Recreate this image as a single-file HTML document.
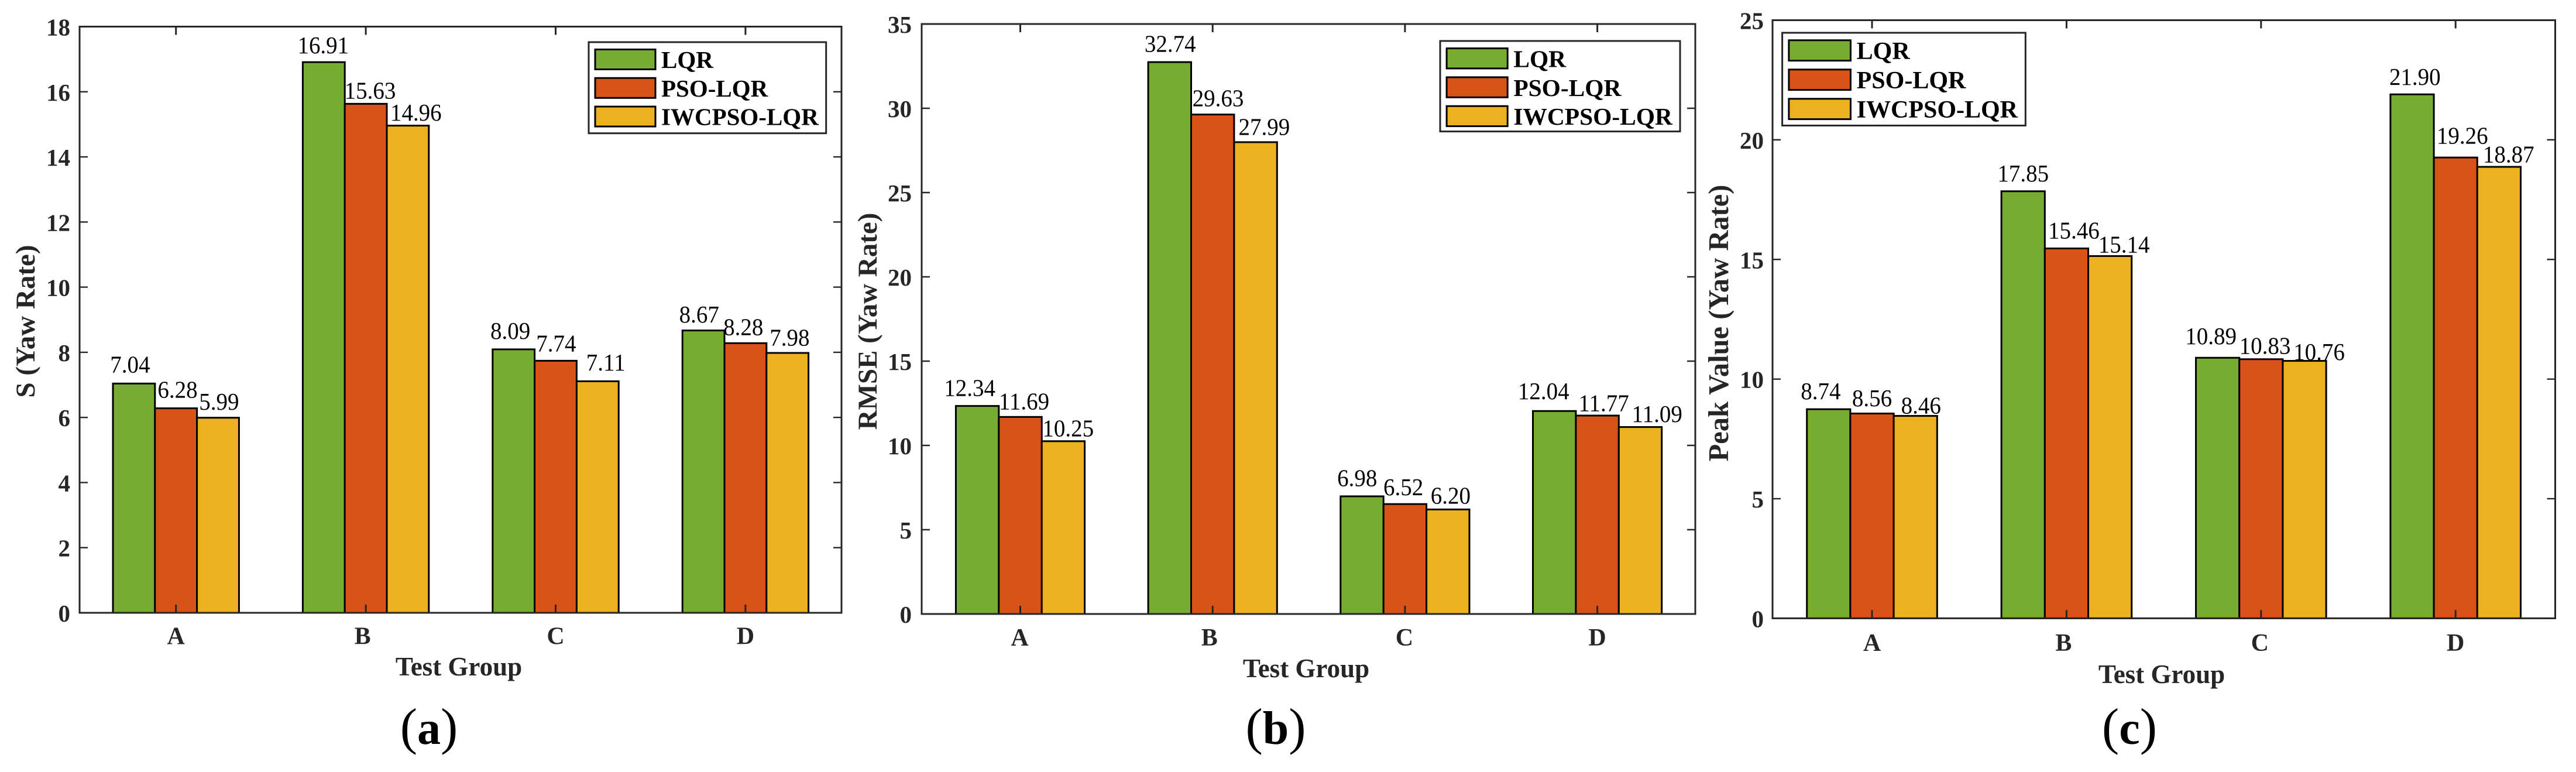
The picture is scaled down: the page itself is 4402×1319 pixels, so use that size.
<!DOCTYPE html>
<html lang="en">
<head>
<meta charset="utf-8">
<title>Yaw rate comparison</title>
<style>
html,body{margin:0;padding:0;background:#fff;}
svg{display:block;}
text{font-family:"Liberation Serif","Times New Roman",serif;}
</style>
</head>
<body>
<svg id="figure" xmlns="http://www.w3.org/2000/svg" width="4402" height="1319" viewBox="0 0 4402 1319">
<rect x="0" y="0" width="4402" height="1319" fill="#fff"/>
<text transform="translate(59 549) rotate(-90)" text-anchor="middle" font-weight="bold" font-size="47" fill="#262626">S (Yaw Rate)</text>
<text transform="translate(1498 549) rotate(-90)" text-anchor="middle" font-weight="bold" font-size="47" fill="#262626">RMSE (Yaw Rate)</text>
<text transform="translate(2953 552) rotate(-90)" text-anchor="middle" font-weight="bold" font-size="48.5" fill="#262626">Peak Value (Yaw Rate)</text>
<text x="784" y="1154" text-anchor="middle" font-weight="bold" font-size="45" fill="#262626">Test Group</text>
<text x="2232" y="1157" text-anchor="middle" font-weight="bold" font-size="45" fill="#262626">Test Group</text>
<text x="3694" y="1167" text-anchor="middle" font-weight="bold" font-size="45" fill="#262626">Test Group</text>
<text x="733" y="1271" text-anchor="middle" font-size="88" fill="#000">(<tspan font-weight="bold" font-size="80">a</tspan>)</text>
<text x="2180" y="1271" text-anchor="middle" font-size="88" fill="#000">(<tspan font-weight="bold" font-size="80">b</tspan>)</text>
<text x="3639" y="1271" text-anchor="middle" font-size="88" fill="#000">(<tspan font-weight="bold" font-size="80">c</tspan>)</text>
</svg>
<script>
// ---- chart data ----
const categories = ['A', 'B', 'C', 'D'];
const seriesNames = ['LQR', 'PSO-LQR', 'IWCPSO-LQR'];
const sLqr = [7.04, 16.91, 8.09, 8.67];
const sPso = [6.28, 15.63, 7.74, 8.28];
const sIwc = [5.99, 14.96, 7.11, 7.98];
const rmseLqr = [12.34, 32.74, 6.98, 12.04];
const rmsePso = [11.69, 29.63, 6.52, 11.77];
const rmseIwc = [10.25, 27.99, 6.20, 11.09];
const peakLqr = [8.74, 17.85, 10.89, 21.90];
const peakPso = [8.56, 15.46, 10.83, 19.26];
const peakIwc = [8.46, 15.14, 10.76, 18.87];
const sTicks = [0, 2, 4, 6, 8, 10, 12, 14, 16, 18];
const rmseTicks = [0, 5, 10, 15, 20, 25, 30, 35];
const peakTicks = [0, 5, 10, 15, 20, 25];

// ---- styles and layout (not data) ----
const seriesFills = ['#77AC30', '#D95319', '#EDB120'];
const axisColor = '#262626';
const NS = 'http://www.w3.org/2000/svg';
const svg = document.getElementById('figure');

const panels = [
  { id: 'a', left: 136, right: 1438, top: 45.5, bottom: 1047, tick0: 300.7, step: 324.4, barW: 71.8,
    ticks: sTicks, series: [sLqr, sPso, sIwc], tickRight: 120, catBase: 1100.7,
    catDx: [0, -5.5, 0, 0],
    legend: { x: 1006, y: 72, w: 405.7, h: 155.7 },
    labelDx: [[-6.5, 2.8, 1.9], [-1, 7.4, 13.9], [-5.6, 0.9, 13.9], [-7.4, -3.7, 3.7]],
    labelDy: [[-19, -18, -13.5], [-15, -9, -8.4], [-18, -16, -18.5], [-13.5, -14, -12.6]] },
  { id: 'b', left: 1575, right: 2897, top: 41, bottom: 1049, tick0: 1743.5, step: 328.7, barW: 73.4,
    ticks: rmseTicks, series: [rmseLqr, rmsePso, rmseIwc], tickRight: 1558, catBase: 1103,
    catDx: [-1, -5.5, -1, 0],
    legend: { x: 2461, y: 70, w: 410, h: 154.6 },
    labelDx: [[-13, 6.5, 8.3], [0.9, 9.3, 14.8], [-8.3, -2.8, 4.6], [-18.5, 11, 28.7]],
    labelDy: [[-17, -12.6, -8.4], [-17.7, -14.3, -12.6], [-17.7, -15, -10], [-20, -7.6, -8.4]] },
  { id: 'c', left: 3029, right: 4366.5, top: 34.5, bottom: 1056.4, tick0: 3199, step: 332.4, barW: 74.2,
    ticks: peakTicks, series: [peakLqr, peakPso, peakIwc], tickRight: 3014, catBase: 1112,
    catDx: [0, -5, -2, 0],
    legend: { x: 3045.6, y: 56, w: 415.7, h: 158.5 },
    labelDx: [[-13.4, 0, 9.6], [0, 12.5, 24], [-11.5, 6.7, 25], [4.8, 11.5, 16.3]],
    labelDy: [[-17, -12.6, -4.2], [-17, -17, -6], [-23.5, -9.3, -1.7], [-16, -23.5, -7.6]] }
];

function make(tag, attrs, parent) {
  const node = document.createElementNS(NS, tag);
  for (const k in attrs) node.setAttribute(k, attrs[k]);
  parent.appendChild(node);
  return node;
}

panels.forEach(function (p) {
  const yMax = p.ticks[p.ticks.length - 1];
  const yScale = function (v) { return p.bottom - (v / yMax) * (p.bottom - p.top); };
  const xCat = function (i) { return p.tick0 + i * p.step; };
  const xBar = function (i, s) { return xCat(i) + (s - 1.5) * p.barW; };

  const group = make('g', {}, svg);
  
  

  // bars
  p.series.forEach(function (values, s) {
    values.forEach(function (v, i) {
      const bar = make('rect', {
        x: xBar(i, s), y: yScale(v), width: p.barW, height: p.bottom - yScale(v),
        fill: seriesFills[s], stroke: '#000', 'stroke-width': 3
      }, group);
      
      
    });
  });

  // axes box
  const box = make('rect', {
    x: p.left, y: p.top, width: p.right - p.left, height: p.bottom - p.top,
    fill: 'none', stroke: axisColor, 'stroke-width': 3
  }, group);
  
  

  // y ticks and labels
  p.ticks.forEach(function (t) {
    const y = yScale(t);
    const inner = make('path', {
      d: 'M' + p.left + ' ' + y + 'h14M' + p.right + ' ' + y + 'h-14',
      stroke: axisColor, 'stroke-width': 2.4, fill: 'none'
    }, group);
    
    
    const label = make('text', {
      x: p.tickRight, y: y + 15, 'text-anchor': 'end', 'font-weight': 'bold',
      'font-size': 41, fill: axisColor
    }, group);
    label.textContent = String(t);
    
    
  });

  // x ticks and labels
  categories.forEach(function (c, i) {
    const x = xCat(i);
    const tick = make('path', {
      d: 'M' + x + ' ' + p.bottom + 'v-14M' + x + ' ' + p.top + 'v14',
      stroke: axisColor, 'stroke-width': 3, fill: 'none'
    }, group);
    
    
    const label = make('text', {
      x: x + p.catDx[i], y: p.catBase, 'text-anchor': 'middle', 'font-weight': 'bold',
      'font-size': 42, fill: axisColor
    }, group);
    label.textContent = c;
    
    
  });

  // printed values
  p.series.forEach(function (values, s) {
    values.forEach(function (v, i) {
      const labelX = xBar(i, s) + p.barW / 2 + p.labelDx[i][s];
      const labelY = yScale(v) + p.labelDy[i][s];
      const label = make('text', {
        transform: 'translate(' + labelX + ' ' + labelY + ') scale(1 1.06)',
        'text-anchor': 'middle', 'font-size': 39, fill: '#000'
      }, group);
      label.textContent = v.toFixed(2);
      
      
    });
  });

  // legend
  const L = p.legend;
  const k = L.w / 405.7;
  const legend = make('g', {}, group);
  
  
  const frame = make('rect', {
    x: L.x, y: L.y, width: L.w, height: L.h, fill: '#fff', stroke: axisColor, 'stroke-width': 3
  }, legend);
  
  
  seriesNames.forEach(function (name, s) {
    const rowY = L.y + (11.5 + s * 48.8) * k;
    const swatch = make('rect', {
      x: L.x + 11 * k, y: rowY + 1, width: 103 * k, height: 34 * k,
      fill: seriesFills[s], stroke: '#000', 'stroke-width': 3
    }, legend);
    
    
    const text = make('text', {
      x: L.x + 124 * k, y: rowY + 32.5 * k, 'font-weight': 'bold',
      'font-size': 41 * k, fill: '#000'
    }, legend);
    text.textContent = name;
    
    
  });
});
</script>
</body>
</html>
